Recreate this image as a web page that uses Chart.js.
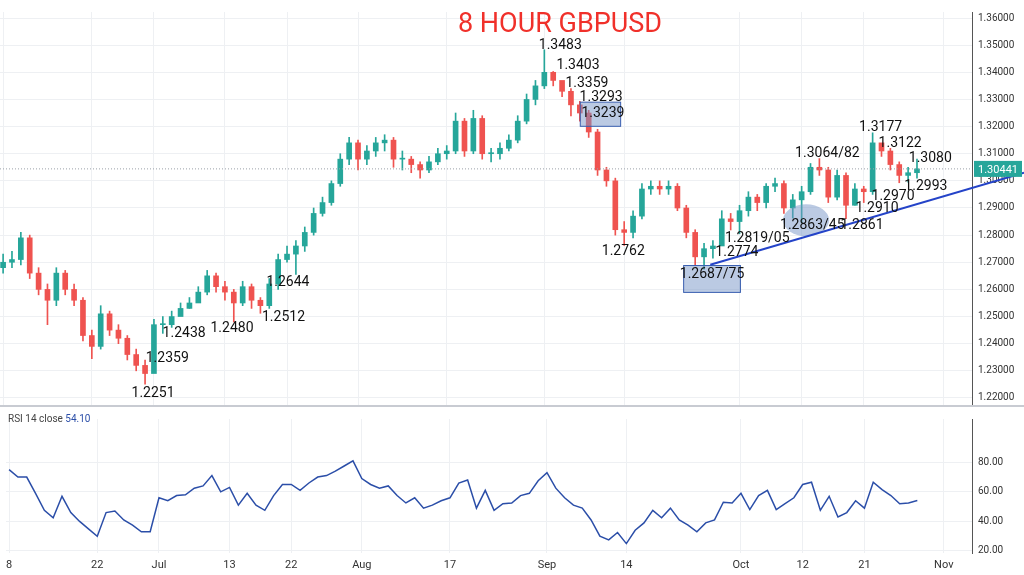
<!DOCTYPE html>
<html>
<head>
<meta charset="utf-8">
<script src="https://cdn.jsdelivr.net/npm/chart.js@4"></script>
<style>
  body { margin: 0; background: #fff; }
  #wrap { position: relative; width: 1024px; height: 575px; overflow: hidden; }
  #priceBox { position: absolute; left: 0; top: 0; width: 1024px; height: 420px; }
  #rsiBox { position: absolute; left: 0; top: 405px; width: 1024px; height: 170px; border-top: 2px solid #c8cbd2; box-sizing: border-box; background: #fff; z-index: 2; }
</style>
</head>
<body>
<div id="wrap">
  <div id="priceBox"><canvas id="priceChart"></canvas></div>
  <div id="rsiBox"><canvas id="rsiChart"></canvas></div>
</div>
<script>
// one candle per trading day, Jun 8 .. Oct 27
const closes = [
  1.270,1.271,1.279,1.266,1.260,1.256,1.266,1.260,1.256,1.243,
  1.239,1.251,1.245,1.242,1.236,1.232,1.229,1.247,1.247,1.250,
  1.253,1.255,1.259,1.265,1.261,1.259,1.255,1.261,1.256,1.254,
  1.262,1.271,1.273,1.276,1.281,1.288,1.292,1.299,1.308,1.314,
  1.308,1.311,1.314,1.315,1.308,1.308,1.306,1.304,1.307,1.310,
  1.311,1.322,1.311,1.323,1.310,1.310,1.312,1.315,1.322,1.330,
  1.335,1.340,1.337,1.333,1.328,1.325,1.318,1.304,1.300,1.282,
  1.281,1.287,1.297,1.298,1.297,1.298,1.290,1.281,1.272,1.275,
  1.276,1.286,1.285,1.289,1.294,1.292,1.298,1.299,1.290,1.293,
  1.296,1.305,1.304,1.294,1.302,1.291,1.297,1.296,1.314,1.311,
  1.306,1.302,1.303,1.3044
];
const highs = [
  1.273,1.274,1.281,1.280,1.268,1.262,1.268,1.267,1.262,1.257,
  1.245,1.254,1.252,1.247,1.243,1.238,1.234,1.249,1.250,1.252,
  1.255,1.257,1.261,1.267,1.266,1.263,1.260,1.263,1.262,1.257,
  1.264,1.273,1.276,1.278,1.283,1.290,1.294,1.300,1.310,1.316,
  1.315,1.313,1.316,1.317,1.316,1.311,1.309,1.307,1.309,1.312,
  1.313,1.325,1.323,1.326,1.324,1.312,1.314,1.317,1.324,1.332,
  1.337,1.3483,1.3403,1.3359,1.334,1.3293,1.326,1.319,1.305,1.301,
  1.285,1.289,1.299,1.300,1.300,1.300,1.299,1.291,1.282,1.277,
  1.278,1.289,1.288,1.291,1.296,1.295,1.299,1.301,1.300,1.295,
  1.298,1.3064,1.3082,1.305,1.304,1.303,1.299,1.298,1.3177,1.3122,
  1.312,1.307,1.305,1.3080
];
const lows = [
  1.266,1.268,1.269,1.264,1.258,1.247,1.254,1.258,1.254,1.241,
  1.2345,1.238,1.243,1.240,1.234,1.230,1.2251,1.2359,1.2438,1.246,
  1.251,1.253,1.257,1.258,1.259,1.256,1.2480,1.254,1.253,1.2512,
  1.253,1.260,1.270,1.2655,1.274,1.280,1.287,1.291,1.298,1.306,
  1.304,1.306,1.309,1.311,1.305,1.304,1.303,1.301,1.303,1.306,
  1.308,1.310,1.309,1.310,1.308,1.307,1.308,1.311,1.314,1.321,
  1.328,1.334,1.335,1.331,1.3239,1.322,1.316,1.302,1.298,1.280,
  1.2762,1.279,1.286,1.295,1.295,1.295,1.289,1.279,1.2687,1.2675,
  1.2715,1.2774,1.2819,1.2805,1.287,1.289,1.290,1.296,1.288,1.2863,
  1.2845,1.295,1.302,1.292,1.293,1.2861,1.2910,1.2920,1.295,1.309,
  1.304,1.2993,1.2995,1.301
];
const rsi = [
  75,70,70,59,47.5,42.5,57,46,40,35,
  30,46,47,41,37.5,33,33,56,54,57.5,
  58,62.5,64,71,60,63,51,59,51,47.5,
  57.5,65,65,61,66,70,71,74,77.5,81,
  69,65,62.5,64,57.5,52.5,56,49,51,54,
  56,66,68,49,61,47.5,52,52.5,57.5,59,
  67.5,73,62.5,56,51,49,41,30,27.5,32.5,
  25,34,39,47.5,42.5,49,41,37.5,33,39,
  41,53,52.5,59,48,57.5,61,48,52,56,
  65,66.5,47.5,57,43,46,54,49,66.5,61.5,
  57.5,52,52.5,54.1
];
const tickIndex = [0, 10, 17, 25, 32, 40, 50, 61, 70, 83, 90, 97, 106];
const tickLabels = ["8", "22", "Jul", "13", "22", "Aug", "17", "Sep", "14", "Oct", "12", "21", "Nov"];
const priceTicks = [1.22,1.23,1.24,1.25,1.26,1.27,1.28,1.29,1.30,1.31,1.32,1.33,1.34,1.35,1.36];
const rsiTicks = [20, 40, 60, 80];
// level notes: [text, candle index, price]
const notes = [
  ["1.3483", 62.8, 1.3497], ["1.3403", 64.8, 1.3426], ["1.3359", 65.8, 1.3360],
  ["1.3293", 67.4, 1.3308], ["1.3239", 67.6, 1.3249], ["1.2762", 69.9, 1.2739],
  ["1.2687/75", 79.9, 1.2654], ["1.2774", 82.7, 1.2735], ["1.2819/05", 85.0, 1.2787],
  ["1.2863/45", 91.2, 1.2835], ["1.2861", 96.8, 1.2835], ["1.2910", 98.5, 1.2898],
  ["1.2970", 100.3, 1.2942], ["1.2993", 104.0, 1.2979], ["1.3080", 104.5, 1.3083],
  ["1.3122", 101.1, 1.3138], ["1.3177", 98.9, 1.3197], ["1.3064/82", 92.9, 1.3101],
  ["1.2644", 32.1, 1.2625], ["1.2512", 31.6, 1.2495], ["1.2480", 25.8, 1.2455],
  ["1.2438", 20.4, 1.2436], ["1.2359", 18.5, 1.2344], ["1.2251", 16.9, 1.2218]
];
const lastPrice = 1.30441;

const UP = "#26a69a", DOWN = "#ef5350";
const opens = closes.map((c, i) => i === 0 ? 1.268 : closes[i - 1]);
const colors = closes.map((c, i) => c >= opens[i] ? UP : DOWN);
const xMin = -0.35, xMax = 109.2;

function xScale(showLabels) {
  return {
    type: "linear", min: xMin, max: xMax, offset: false,
    display: true,
    afterBuildTicks(axis) { axis.ticks = tickIndex.map(v => ({ value: v })); },
    afterFit(axis) { axis.height = showLabels ? 22 : 0; },
    grid: { color: "#eef0f3", drawTicks: false, offset: false },
    border: { display: false },
    ticks: {
      display: showLabels, color: "#333", font: { family: "Roboto", size: 11 }, padding: 6,
      maxRotation: 0, autoSkip: false,
      callback(v) { const k = tickIndex.indexOf(v); return k >= 0 ? tickLabels[k] : ""; }
    }
  };
}

const overlay = {
  id: "overlay",
  afterDatasetsDraw(chart) {
    const { ctx, chartArea: a } = chart;
    const x = chart.scales.x, y = chart.scales.y;
    ctx.save();
    ctx.strokeStyle = "#9aa0a8"; ctx.setLineDash([1, 2]); ctx.lineWidth = 1;
    ctx.beginPath(); ctx.moveTo(a.left, y.getPixelForValue(lastPrice)); ctx.lineTo(a.right, y.getPixelForValue(lastPrice)); ctx.stroke();
    ctx.setLineDash([]);
    ctx.fillStyle = "rgba(120,150,200,0.5)"; ctx.strokeStyle = "#3a5fb0"; ctx.lineWidth = 1;
    const box = (i0, p0, i1, p1) => {
      const x0 = x.getPixelForValue(i0), y0 = y.getPixelForValue(p0);
      const x1 = x.getPixelForValue(i1), y1 = y.getPixelForValue(p1);
      ctx.fillRect(x0, y0, x1 - x0, y1 - y0); ctx.strokeRect(x0, y0, x1 - x0, y1 - y0);
    };
    box(65.05, 1.3290, 69.6, 1.3201);
    box(76.7, 1.2688, 83.1, 1.2589);
    ctx.beginPath();
    ctx.ellipse(x.getPixelForValue(90.5), y.getPixelForValue(1.2855), 23, 16, 0, 0, Math.PI * 2);
    ctx.fillStyle = "rgba(120,150,200,0.5)"; ctx.fill();
    ctx.beginPath(); ctx.rect(a.left, a.top, chart.width - a.left, a.bottom - a.top); ctx.clip();
    ctx.strokeStyle = "#2443c8"; ctx.lineWidth = 2;
    ctx.beginPath();
    ctx.moveTo(x.getPixelForValue(79.7), y.getPixelForValue(1.2691));
    const s = (1.2972 - 1.2691) / (109 - 79.7);
    ctx.lineTo(chart.width, y.getPixelForValue(1.2691 + s * (x.getValueForPixel(chart.width) - 79.7)));
    ctx.stroke();
    ctx.restore();
    ctx.save();
    ctx.fillStyle = "#111"; ctx.font = "14px Roboto"; ctx.textAlign = "center"; ctx.textBaseline = "middle";
    notes.forEach(n => ctx.fillText(n[0], x.getPixelForValue(n[1]), y.getPixelForValue(n[2])));
    ctx.fillStyle = "#f0302a"; ctx.font = "27px Roboto";
    ctx.fillText("8 HOUR GBPUSD", 560, 25);
    const ly = y.getPixelForValue(lastPrice);
    ctx.fillStyle = UP; ctx.fillRect(a.right + 2, ly - 8, 48, 16);
    ctx.fillStyle = "#fff"; ctx.font = "11px Roboto";
    ctx.fillText(lastPrice.toFixed(5), a.right + 26, ly + 1);
    ctx.restore();
  }
};

const yFit = axis => { axis.width = 52; };

new Chart(document.getElementById("priceChart"), {
  type: "bar",
  data: {
    datasets: [
      { data: closes.map((c, i) => ({ x: i, y: [lows[i], highs[i]] })), backgroundColor: colors, barThickness: 1, grouped: false },
      { data: closes.map((c, i) => ({ x: i, y: [opens[i], c] })), backgroundColor: colors, barThickness: 5, grouped: false, minBarLength: 1 }
    ]
  },
  options: {
    responsive: true, maintainAspectRatio: false, animation: false,
    layout: { padding: 0 },
    plugins: { legend: { display: false }, tooltip: { enabled: false } },
    scales: {
      x: xScale(false),
      y: {
        position: "right", min: 1.2163, max: 1.36222,
        afterBuildTicks(axis) { axis.ticks = priceTicks.map(v => ({ value: v })); },
        afterFit: yFit,
        grid: { color: "#eef0f3", drawTicks: false },
        border: { color: "#555", width: 1 },
        ticks: { color: "#333", font: { family: "Roboto", size: 10 }, padding: 6, callback: v => v.toFixed(5) }
      }
    }
  },
  plugins: [overlay]
});

new Chart(document.getElementById("rsiChart"), {
  type: "line",
  data: {
    datasets: [{ data: rsi.map((v, i) => ({ x: i, y: v })), borderColor: "#2b4ea8", borderWidth: 1.5, pointRadius: 0, tension: 0 }]
  },
  options: {
    responsive: true, maintainAspectRatio: false, animation: false,
    layout: { padding: 0 },
    plugins: { legend: { display: false }, tooltip: { enabled: false } },
    scales: {
      x: xScale(true),
      y: {
        position: "right", min: 18.64, max: 109.3,
        afterBuildTicks(axis) { axis.ticks = rsiTicks.map(v => ({ value: v })); },
        afterFit: yFit,
        grid: { color: "#eef0f3", drawTicks: false },
        border: { color: "#555", width: 1 },
        ticks: { color: "#333", font: { family: "Roboto", size: 10 }, padding: 6, callback: v => v.toFixed(2) }
      }
    }
  },
  plugins: [{
    id: "rsiLabel",
    afterDraw(chart) {
      const { ctx } = chart;
      ctx.save();
      ctx.font = "10px Roboto"; ctx.textBaseline = "middle";
      ctx.fillStyle = "#444"; ctx.fillText("RSI 14 close", 8, 12);
      ctx.fillStyle = "#2b4ea8"; ctx.fillText("54.10", 8 + ctx.measureText("RSI 14 close ").width, 12);
      ctx.restore();
    }
  }]
});
</script>
</body>
</html>
